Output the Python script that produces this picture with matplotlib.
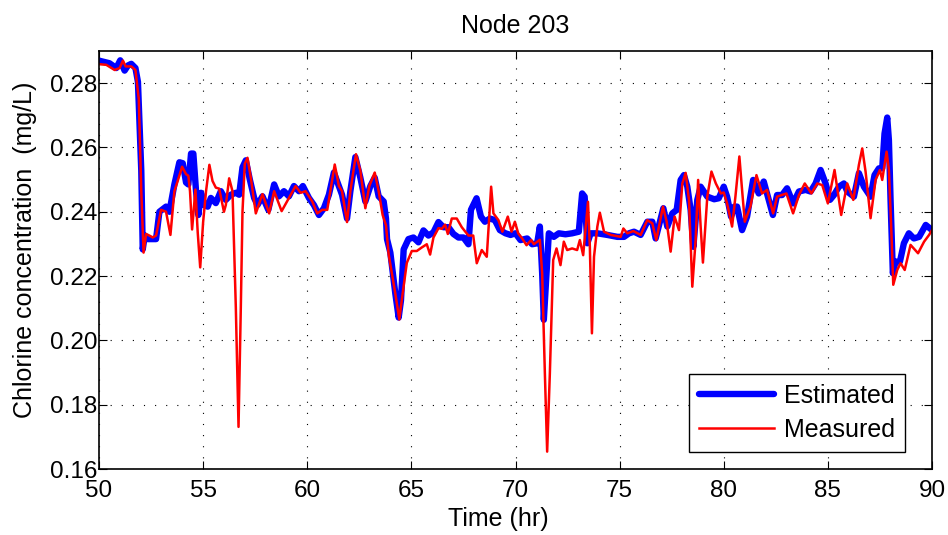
import matplotlib
matplotlib.use("Agg")
import matplotlib.pyplot as plt

plt.rcParams['font.family'] = ['Liberation Sans', 'DejaVu Sans']

# Estimated chlorine concentration (model output)
est_time = [
    50.00, 50.50, 50.83, 51.02, 51.23, 51.39, 51.55, 51.75, 51.87, 52.03,
    52.10, 52.20, 52.34, 52.58, 52.74, 52.90, 53.22, 53.38, 53.62, 53.86,
    54.02, 54.18, 54.29, 54.42, 54.53, 54.66, 54.77, 54.90, 55.06, 55.22,
    55.37, 55.61, 55.85, 56.09, 56.33, 56.57, 56.73, 56.89, 57.05, 57.24,
    57.45, 57.61, 57.85, 58.13, 58.41, 58.64, 58.88, 59.12, 59.36, 59.60,
    59.79, 60.08, 60.32, 60.56, 60.80, 61.04, 61.28, 61.52, 61.67, 61.91,
    62.07, 62.31, 62.55, 62.79, 63.03, 63.24, 63.43, 63.67, 63.78, 63.83,
    63.99, 64.23, 64.39, 64.50, 64.63, 64.86, 65.10, 65.34, 65.58, 65.82,
    66.06, 66.30, 66.54, 66.78, 67.02, 67.26, 67.50, 67.74, 67.86, 68.13,
    68.34, 68.53, 68.77, 69.01, 69.25, 69.52, 69.76, 70.00, 70.24, 70.56,
    70.80, 71.04, 71.17, 71.28, 71.36, 71.47, 71.60, 71.84, 72.08, 72.40,
    72.72, 73.04, 73.20, 73.32, 73.45, 73.61, 73.93, 74.41, 74.89, 75.21,
    75.45, 75.69, 76.01, 76.33, 76.57, 76.73, 77.10, 77.29, 77.53, 77.74,
    77.93, 78.09, 78.25, 78.41, 78.54, 78.73, 78.89, 79.21, 79.54, 79.76,
    80.00, 80.16, 80.35, 80.51, 80.64, 80.88, 81.12, 81.41, 81.68, 81.92,
    82.16, 82.36, 82.56, 82.80, 83.04, 83.33, 83.61, 83.93, 84.17, 84.41,
    84.65, 84.89, 85.10, 85.29, 85.53, 85.77, 85.93, 86.25, 86.49, 86.73,
    87.05, 87.24, 87.45, 87.61, 87.72, 87.85, 87.93, 88.01, 88.12, 88.25,
    88.46, 88.65, 88.89, 89.13, 89.38, 89.70, 90.00,
]
est_conc = [
    0.2870, 0.2862, 0.2847, 0.2871, 0.2839, 0.2855, 0.2860, 0.2847, 0.2804, 0.2528,
    0.2283, 0.2326, 0.2315, 0.2315, 0.2315, 0.2400, 0.2416, 0.2400, 0.2485, 0.2554,
    0.2551, 0.2491, 0.2485, 0.2581, 0.2581, 0.2464, 0.2390, 0.2459, 0.2421, 0.2416,
    0.2443, 0.2427, 0.2464, 0.2437, 0.2453, 0.2459, 0.2453, 0.2538, 0.2560, 0.2501,
    0.2443, 0.2421, 0.2448, 0.2406, 0.2485, 0.2448, 0.2464, 0.2448, 0.2480, 0.2464,
    0.2480, 0.2443, 0.2421, 0.2390, 0.2411, 0.2453, 0.2522, 0.2480, 0.2453, 0.2379,
    0.2464, 0.2570, 0.2506, 0.2432, 0.2480, 0.2506, 0.2448, 0.2432, 0.2379, 0.2315,
    0.2273, 0.2145, 0.2071, 0.2124, 0.2283, 0.2315, 0.2320, 0.2305, 0.2342, 0.2326,
    0.2336, 0.2368, 0.2352, 0.2352, 0.2331, 0.2320, 0.2320, 0.2299, 0.2406, 0.2442,
    0.2385, 0.2369, 0.2379, 0.2374, 0.2343, 0.2333, 0.2328, 0.2333, 0.2312, 0.2317,
    0.2299, 0.2302, 0.2354, 0.2209, 0.2064, 0.2188, 0.2333, 0.2322, 0.2333, 0.2330,
    0.2333, 0.2338, 0.2457, 0.2447, 0.2302, 0.2333, 0.2333, 0.2328, 0.2322, 0.2322,
    0.2333, 0.2338, 0.2328, 0.2369, 0.2369, 0.2317, 0.2411, 0.2354, 0.2395, 0.2406,
    0.2499, 0.2514, 0.2478, 0.2406, 0.2291, 0.2437, 0.2478, 0.2447, 0.2439, 0.2442,
    0.2478, 0.2447, 0.2385, 0.2416, 0.2416, 0.2343, 0.2385, 0.2499, 0.2457, 0.2494,
    0.2437, 0.2390, 0.2452, 0.2452, 0.2473, 0.2426, 0.2463, 0.2468, 0.2463, 0.2488,
    0.2530, 0.2488, 0.2437, 0.2452, 0.2478, 0.2488, 0.2463, 0.2447, 0.2520, 0.2478,
    0.2447, 0.2514, 0.2535, 0.2535, 0.2643, 0.2693, 0.2623, 0.2437, 0.2209, 0.2245,
    0.2245, 0.2302, 0.2333, 0.2317, 0.2322, 0.2359, 0.2343,
]

# Measured chlorine concentration (sensor)
meas_time = [
    50.00, 50.35, 50.75, 50.99, 51.15, 51.28, 51.55, 51.75, 51.91, 52.03,
    52.14, 52.26, 52.42, 52.58, 52.74, 52.98, 53.22, 53.43, 53.62, 53.78,
    53.99, 54.18, 54.29, 54.37, 54.47, 54.63, 54.74, 54.86, 55.00, 55.14,
    55.30, 55.45, 55.61, 55.77, 56.00, 56.09, 56.25, 56.41, 56.57, 56.70,
    56.81, 56.89, 57.00, 57.13, 57.29, 57.53, 57.85, 58.17, 58.41, 58.77,
    59.12, 59.44, 59.68, 59.92, 60.24, 60.48, 60.72, 60.96, 61.12, 61.32,
    61.52, 61.67, 61.91, 62.07, 62.34, 62.55, 62.79, 62.98, 63.24, 63.43,
    63.62, 63.78, 63.91, 64.23, 64.42, 64.58, 64.78, 65.02, 65.26, 65.50,
    65.74, 65.90, 66.06, 66.30, 66.46, 66.62, 66.75, 66.94, 67.18, 67.42,
    67.74, 67.97, 68.14, 68.38, 68.62, 68.83, 68.94, 69.18, 69.37, 69.63,
    69.81, 69.97, 70.13, 70.32, 70.53, 70.75, 70.88, 71.17, 71.28, 71.41,
    71.52, 71.65, 71.81, 71.97, 72.16, 72.32, 72.48, 72.72, 72.96, 73.09,
    73.25, 73.48, 73.57, 73.67, 73.77, 73.93, 74.05, 74.25, 74.57, 75.05,
    75.18, 75.37, 75.66, 76.01, 76.33, 76.57, 76.76, 77.08, 77.26, 77.45,
    77.64, 77.85, 78.01, 78.17, 78.33, 78.49, 78.65, 78.77, 78.89, 79.00,
    79.21, 79.41, 79.62, 79.86, 80.00, 80.16, 80.40, 80.56, 80.75, 80.88,
    81.01, 81.28, 81.57, 81.84, 82.08, 82.37, 82.56, 83.01, 83.33, 83.61,
    83.89, 84.21, 84.49, 84.73, 85.00, 85.32, 85.64, 85.93, 86.22, 86.49,
    86.65, 86.81, 87.05, 87.29, 87.50, 87.61, 87.82, 87.93, 88.04, 88.14,
    88.33, 88.49, 88.69, 88.97, 89.33, 89.62, 89.86, 90.00,
]
meas_conc = [
    0.2859, 0.2857, 0.2841, 0.2847, 0.2870, 0.2852, 0.2852, 0.2841, 0.2751, 0.2464,
    0.2273, 0.2331, 0.2326, 0.2320, 0.2326, 0.2406, 0.2400, 0.2328, 0.2464, 0.2496,
    0.2540, 0.2517, 0.2512, 0.2464, 0.2345, 0.2469, 0.2336, 0.2227, 0.2368, 0.2464,
    0.2546, 0.2496, 0.2475, 0.2472, 0.2400, 0.2421, 0.2504, 0.2464, 0.2103, 0.1731,
    0.2103, 0.2400, 0.2549, 0.2568, 0.2506, 0.2395, 0.2455, 0.2395, 0.2464, 0.2402,
    0.2443, 0.2480, 0.2459, 0.2464, 0.2432, 0.2395, 0.2406, 0.2406, 0.2469, 0.2547,
    0.2480, 0.2464, 0.2368, 0.2464, 0.2579, 0.2528, 0.2411, 0.2480, 0.2522, 0.2464,
    0.2390, 0.2358, 0.2267, 0.2145, 0.2065, 0.2145, 0.2241, 0.2278, 0.2278, 0.2289,
    0.2299, 0.2267, 0.2320, 0.2349, 0.2347, 0.2360, 0.2331, 0.2379, 0.2379, 0.2352,
    0.2326, 0.2326, 0.2240, 0.2281, 0.2260, 0.2478, 0.2395, 0.2374, 0.2338, 0.2385,
    0.2338, 0.2369, 0.2333, 0.2317, 0.2296, 0.2312, 0.2299, 0.2313, 0.2209, 0.1898,
    0.1654, 0.1898, 0.2250, 0.2286, 0.2234, 0.2307, 0.2281, 0.2286, 0.2281, 0.2312,
    0.2265, 0.2431, 0.2291, 0.2022, 0.2260, 0.2354, 0.2397, 0.2338, 0.2328, 0.2322,
    0.2348, 0.2333, 0.2340, 0.2328, 0.2374, 0.2364, 0.2312, 0.2416, 0.2369, 0.2276,
    0.2385, 0.2343, 0.2488, 0.2521, 0.2437, 0.2167, 0.2312, 0.2499, 0.2354, 0.2242,
    0.2447, 0.2525, 0.2488, 0.2457, 0.2460, 0.2426, 0.2354, 0.2447, 0.2572, 0.2468,
    0.2369, 0.2416, 0.2514, 0.2457, 0.2468, 0.2395, 0.2447, 0.2457, 0.2395, 0.2452,
    0.2488, 0.2457, 0.2488, 0.2483, 0.2426, 0.2530, 0.2390, 0.2488, 0.2437, 0.2546,
    0.2597, 0.2525, 0.2380, 0.2499, 0.2530, 0.2499, 0.2587, 0.2530, 0.2354, 0.2173,
    0.2219, 0.2240, 0.2219, 0.2297, 0.2271, 0.2307, 0.2328, 0.2343,
]

x_ticks = [50, 55, 60, 65, 70, 75, 80, 85, 90]
y_ticks = [0.16, 0.18, 0.20, 0.22, 0.24, 0.26, 0.28]
y_tick_labels = ['0.16', '0.18', '0.20', '0.22', '0.24', '0.26', '0.28']

fs = 18

fig = plt.figure(figsize=(9.48, 5.35), dpi=100)
ax = fig.add_axes([99 / 948, 66 / 535, 833 / 948, 418 / 535])

ax.plot(est_time, est_conc, color='#0000ff', linewidth=4.6,
        solid_joinstyle='round', solid_capstyle='round', label='Estimated')
ax.plot(meas_time, meas_conc, color='#ff0000', linewidth=1.8,
        solid_joinstyle='round', label='Measured')

ax.set_xlim(50, 90)
ax.set_ylim(0.16, 0.29)
ax.set_xticks(x_ticks)
ax.set_yticks(y_ticks)
ax.set_yticklabels(y_tick_labels)

ax.grid(True, color='black', linestyle=(0, (1.0, 9.0)), linewidth=0.8)
ax.tick_params(direction='in', length=6, width=0.8, top=True, right=True,
               labelsize=17.5, colors='black')
ax.tick_params(axis='x', pad=8)
ax.tick_params(axis='y', pad=1)
for sp in ax.spines.values():
    sp.set_linewidth(1.2)

ax.set_title('Node 203', fontsize=fs, pad=13)
ax.set_xlabel('Time (hr)', fontsize=fs)
ax.set_ylabel('Chlorine concentration  (mg/L)', fontsize=fs)
ax.xaxis.set_label_coords(0.479, -0.092)
ax.yaxis.set_label_coords(-0.075, 0.524)

leg = ax.legend(loc='lower right', bbox_to_anchor=(0.9676, 0.0407),
                borderaxespad=0, fontsize=fs, handlelength=3.0,
                handletextpad=0.4, labelspacing=0.4, borderpad=0.4,
                fancybox=False, framealpha=1, edgecolor='black')
leg.get_frame().set_linewidth(1.0)

fig.savefig('out.png', dpi=100)
